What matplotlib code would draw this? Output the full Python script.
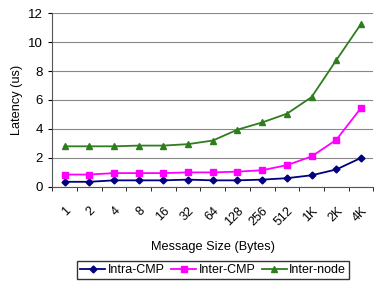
import matplotlib.pyplot as plt
import numpy as np

plt.rcParams['font.family'] = ['Liberation Sans', 'DejaVu Sans']

sizes = ['1', '2', '4', '8', '16', '32', '64', '128', '256', '512', '1K', '2K', '4K']
intra_cmp = [0.35, 0.35, 0.45, 0.45, 0.45, 0.5, 0.45, 0.45, 0.5, 0.6, 0.8, 1.2, 2.0]
inter_cmp = [0.85, 0.85, 0.95, 0.95, 0.95, 1.0, 1.0, 1.05, 1.15, 1.5, 2.1, 3.25, 5.45]
inter_node = [2.8, 2.8, 2.8, 2.85, 2.85, 2.95, 3.2, 3.95, 4.45, 5.05, 6.2, 8.75, 11.25]

fig = plt.figure(figsize=(3.81, 2.84), dpi=100)
ax = fig.add_axes([0.137, 0.342, 0.843, 0.612])

x = np.arange(len(sizes))
ax.plot(x, intra_cmp, color='#000080', marker='D', markersize=3.5, linewidth=1.3, label='Intra-CMP')
ax.plot(x, inter_cmp, color='#FF00FF', marker='s', markersize=5, linewidth=1.3, label='Inter-CMP')
ax.plot(x, inter_node, color='#2E7D1E', marker='^', markersize=5, linewidth=1.3, label='Inter-node')

ax.set_xlim(-0.5, len(sizes) - 0.5)
ax.set_ylim(0, 12)
ax.set_yticks(range(0, 13, 2))
ax.set_xticks(x)
ax.set_xticklabels(sizes, rotation=45, ha='right', rotation_mode='anchor', fontsize=9)
ax.set_xticks(np.arange(-0.5, len(sizes), 1), minor=True)
ax.tick_params(axis='x', which='major', length=0, pad=13)
ax.tick_params(axis='x', which='minor', length=3, direction='out')
ax.tick_params(axis='y', labelsize=9.5, length=3)
ax.grid(axis='y', color='#888888', linewidth=0.8)
ax.set_axisbelow(True)
for s in ['top', 'right']:
    ax.spines[s].set_visible(False)
ax.spines['left'].set_color('#555555')
ax.spines['bottom'].set_color('#555555')

ax.set_ylabel('Latency (us)', fontsize=9.2)
ax.set_xlabel('Message Size (Bytes)', fontsize=9.2, labelpad=9)

fig.legend(loc='lower center', bbox_to_anchor=(0.56, -0.005), ncol=3, fontsize=9,
           frameon=True, fancybox=False, edgecolor='black', handlelength=2,
           columnspacing=0.5, handletextpad=0.2, borderpad=0.25)

fig.savefig('out.png', dpi=100)
